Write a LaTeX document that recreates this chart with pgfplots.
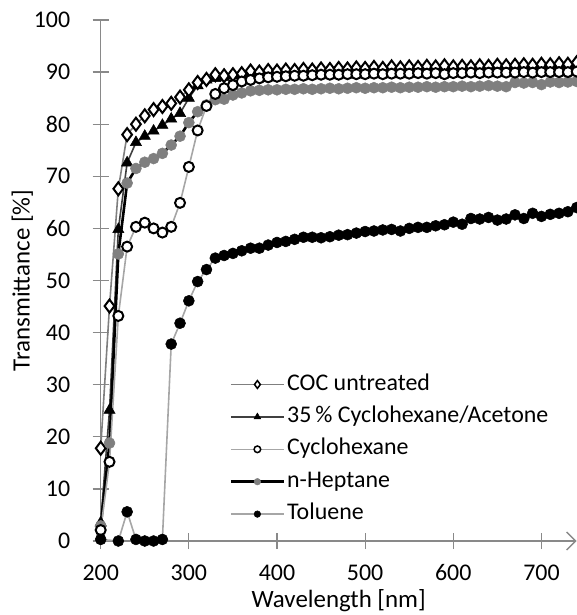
\documentclass[border=0pt]{standalone}
\usepackage{pgfplots}
\pgfplotsset{compat=1.18}
\usepackage{pgfplotstable}
\usetikzlibrary{arrows.meta}
\usepackage{fontspec}
\setmainfont{Carlito}
\definecolor{axgray}{HTML}{898989}
\definecolor{midgray}{HTML}{7F7F7F}
\definecolor{lightgray}{HTML}{A6A6A6}
\definecolor{darkgray}{HTML}{404040}
\definecolor{fillgray}{HTML}{7F7F7F}

\pgfplotstableread{
x y
200 17.8
210 45.1
220 67.6
230 78.0
240 80.0
250 81.6
260 82.8
270 83.4
280 84.0
290 85.2
300 86.6
310 88.0
320 88.6
330 89.5
340 89.3
350 89.5
360 89.7
370 90.2
380 90.0
390 90.3
400 90.2
410 90.4
420 90.3
430 90.5
440 90.4
450 90.6
460 90.5
470 90.7
480 90.6
490 90.8
500 90.7
510 90.9
520 90.7
530 91.0
540 90.8
550 91.0
560 90.9
570 91.1
580 91.0
590 91.2
600 91.0
610 91.1
620 91.0
630 91.2
640 91.1
650 91.3
660 91.2
670 91.3
680 91.4
690 91.3
700 91.5
710 91.4
720 91.6
730 91.5
740 91.8
}\coc

\pgfplotstableread{
x y
200 3.5
210 25.1
220 59.8
230 72.6
240 76.5
250 77.7
260 78.7
270 79.8
280 81.0
290 82.1
300 85.0
310 87.4
320 88.5
330 88.8
340 89.0
350 89.3
360 89.5
370 89.7
380 89.9
390 90.0
400 90.1
410 90.2
420 90.2
430 90.3
440 90.3
450 90.4
460 90.4
470 90.5
480 90.5
490 90.6
500 90.6
510 90.7
520 90.7
530 90.8
540 90.8
550 90.9
560 90.9
570 90.9
580 91.0
590 91.0
600 91.0
610 91.1
620 91.1
630 91.1
640 91.2
650 91.2
660 91.2
670 91.3
680 91.3
690 91.3
700 91.4
710 91.4
720 91.5
730 91.5
740 91.6
}\acetone

\pgfplotstableread{
x y
200 2.1
210 15.2
220 43.2
230 56.5
240 60.3
250 61.1
260 60.0
270 59.2
280 60.3
290 64.9
300 71.8
310 78.8
320 83.5
330 85.8
340 86.9
350 87.5
360 88.2
370 88.5
380 88.8
390 89.0
400 89.1
410 89.2
420 89.3
430 89.3
440 89.4
450 89.5
460 89.5
470 89.5
480 89.6
490 89.6
500 89.6
510 89.7
520 89.6
530 89.7
540 89.7
550 89.7
560 89.8
570 89.7
580 89.8
590 89.6
600 89.8
610 89.8
620 89.9
630 89.8
640 89.9
650 89.9
660 89.9
670 89.9
680 90.0
690 89.9
700 90.0
710 90.0
720 90.0
730 90.0
740 90.1
}\cyclo

\pgfplotstableread{
x y
200 2.9
210 18.8
220 55.1
230 68.7
240 71.5
250 72.7
260 73.4
270 74.4
280 76.0
290 77.7
300 80.3
310 82.4
320 83.7
330 84.7
340 84.8
350 85.6
360 86.0
370 86.4
380 86.5
390 86.6
400 86.6
410 86.7
420 86.7
430 86.8
440 86.7
450 86.8
460 86.9
470 86.8
480 86.9
490 87.0
500 86.9
510 87.0
520 87.0
530 87.1
540 87.0
550 87.1
560 87.1
570 87.2
580 87.1
590 87.2
600 87.2
610 87.3
620 87.2
630 87.3
640 87.4
650 87.3
660 87.2
670 88.0
680 87.9
690 88.0
700 87.6
710 88.1
720 88.0
730 88.1
740 88.2
}\heptane

\pgfplotstableread{
x y
200 0.3
220 0.0
230 5.6
240 0.3
250 0.0
260 0.0
270 0.3
280 37.8
290 41.8
300 46.1
310 49.8
320 52.1
330 54.3
340 54.8
350 55.2
360 55.7
370 56.2
380 56.2
390 56.8
400 57.3
410 57.5
420 57.9
430 58.3
440 58.3
450 58.2
460 58.4
470 58.7
480 58.8
490 59.1
500 59.4
510 59.5
520 59.7
530 59.8
540 59.5
550 60.0
560 60.2
570 60.2
580 60.5
590 60.7
600 61.2
610 60.8
620 61.9
630 61.8
640 62.1
650 61.6
660 61.8
670 62.6
680 61.9
690 62.9
700 62.3
710 62.7
720 62.9
730 63.2
740 64.0
}\toluene

\begin{document}
\begin{tikzpicture}[font=\fontsize{24}{28}\selectfont]
\begin{axis}[
  scale only axis,
  width=476bp, height=521bp,
  xmin=200, xmax=740, ymin=0, ymax=100,
  axis lines=left,
  x axis line style={axgray, line width=1.4bp, -{Straight Barb[length=9bp,width=18bp,line width=1.4bp]}},
  y axis line style={axgray, line width=1.4bp, -},
  xtick={200,300,...,700},
  ytick={0,10,...,100},
  tick align=center,
  major tick length=16bp,
  tick style={axgray, line width=1.2bp},
  /pgf/number format/assume math mode=true,
  tick label style={font=\fontsize{24}{28}\selectfont, black},
  xticklabel style={yshift=-12bp},
  yticklabel style={xshift=-19bp},
  label style={font=\fontsize{25}{29}\selectfont},
  xlabel={Wavelength [nm]},
  ylabel={Transmittance [\%]},
  xlabel style={yshift=-2bp},
  ylabel style={yshift=-6bp},
  clip=true,
  legend cell align=left,
  legend style={draw=none, fill=none, font=\fontsize{24}{28}\selectfont,
    at={(axis cs:346,17.6)}, anchor=west, inner sep=0pt,
    row sep=0bp,
    nodes={inner ysep=4.7bp, inner xsep=2bp, text height=17bp, text depth=6bp}},
  legend image code/.code={
    \draw[#1] (0bp,0bp) -- (53bp,0bp);
    \draw[#1, only marks, every mark/.append style={scale=0.6}] plot coordinates {(26.5bp,0bp)};
  },
  mark size=5.5bp,
]
% draw order
\addplot[forget plot, darkgray, line width=1.6bp, mark=triangle*, mark size=6.5bp, mark options={black, fill=black, solid, line width=0.5bp}] table {\acetone};
\addplot[forget plot, midgray, line width=1.6bp, mark=diamond*, mark size=6.5bp, mark options={black, fill=white, solid, line width=2bp}] table {\coc};
\addplot[forget plot, black, line width=2.6bp, mark=*, mark size=5.5bp, mark options={fillgray, draw=fillgray, fill=fillgray, solid, line width=0.5bp}] table {\heptane};
\addplot[forget plot, lightgray, line width=1.6bp, mark=*, mark size=5bp, mark options={draw=black, fill=white, solid, line width=2bp}] table {\cyclo};
\addplot[forget plot, lightgray, line width=1.6bp, mark=*, mark size=5.5bp, mark options={draw=black, fill=black, solid, line width=0.5bp}] table {\toluene};
% legend entries
\addlegendimage{midgray, line width=1.6bp, mark=diamond*, mark size=6.5bp, mark options={black, fill=white, solid, line width=1.5bp}}
\addlegendentry{COC untreated}
\addlegendimage{darkgray, line width=1.6bp, mark=triangle*, mark size=6.5bp, mark options={black, fill=black, solid, line width=0.5bp}}
\addlegendentry{35\,\% Cyclohexane/Acetone}
\addlegendimage{lightgray, line width=1.6bp, mark=*, mark size=5.5bp, mark options={draw=black, fill=white, solid, line width=1.5bp}}
\addlegendentry{Cyclohexane}
\addlegendimage{black, line width=2.6bp, mark=*, mark size=5.5bp, mark options={draw=fillgray, fill=fillgray, solid, line width=0.5bp}}
\addlegendentry{n-Heptane}
\addlegendimage{lightgray, line width=1.6bp, mark=*, mark size=5.5bp, mark options={draw=black, fill=black, solid, line width=0.5bp}}
\addlegendentry{Toluene}
\end{axis}
\pgfresetboundingbox
\path[use as bounding box] (-100.7bp,-74bp) rectangle (476.3bp,541bp);
\end{tikzpicture}
\end{document}
